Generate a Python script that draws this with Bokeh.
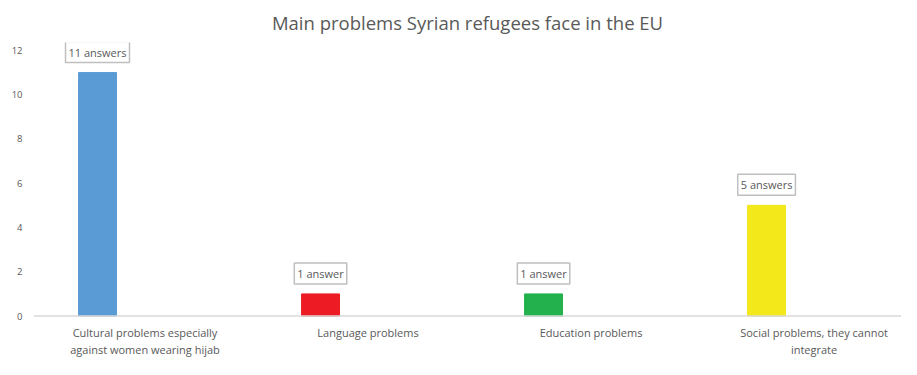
from bokeh.plotting import figure
from bokeh.models import ColumnDataSource, Label, Range1d, FixedTicker, Span
from bokeh.transform import dodge
from bokeh.embed import file_html
from bokeh.resources import INLINE

categories = [
    "Cultural problems especially\nagainst women wearing hijab",
    "Language problems",
    "Education problems",
    "Social problems, they cannot\nintegrate",
]
answers = [11, 1, 1, 5]
answer_labels = ["11 answers", "1 answer", "1 answer", "5 answers"]
bar_colors = ["#5B9BD5", "#ED1C24", "#22B14C", "#F2E81A"]
y_ticks = [0, 2, 4, 6, 8, 10, 12]

FONT = "Open Sans"
GREY = "#595959"
DODGE = -0.213

pos = [i + 0.5 for i in range(len(categories))]
src = ColumnDataSource(dict(x=pos, top=answers, label=answer_labels, color=bar_colors))

# y range extends below 0 so the category labels sit inside the plot frame
p = figure(width=901, height=359, output_backend="svg", toolbar_location=None,
           x_range=Range1d(0, 3.892), y_range=Range1d(-1.963, 12.357),
           min_border_left=33, min_border_right=0, min_border_top=38, min_border_bottom=0,
           title="Main problems Syrian refugees face in the EU")
p.outline_line_color = None
p.background_fill_color = "white"
p.border_fill_color = "white"
p.grid.visible = False

p.title.align = "center"
p.title.text_font = FONT
p.title.text_font_size = "18.5px"
p.title.text_font_style = "normal"
p.title.text_color = GREY
p.title.standoff = 15

p.vbar(x=dodge("x", DODGE, range=p.x_range), top="top", width=0.17, bottom=0,
       color="color", source=src)

# category axis line at y = 0
p.add_layout(Span(location=0, dimension="width", line_color="#D9D9D9", line_width=1.5))

for xc, top, lab in zip(pos, answers, answer_labels):
    p.add_layout(Label(x=xc + DODGE, y=top, text=lab, text_align="center",
                       text_baseline="bottom", y_offset=10,
                       text_font=FONT, text_font_size="11px", text_color=GREY,
                       background_fill_color="white", border_line_color="#BFBFBF",
                       border_line_width=1.5, padding=3))

# category labels below the axis line
for xc, cat in zip(pos, categories):
    p.add_layout(Label(x=xc, y=0, text=cat, text_align="center",
                       text_baseline="top", y_offset=-9,
                       text_font=FONT, text_font_size="11px", text_color=GREY,
                       text_line_height=1.15))

p.xaxis.visible = False

p.yaxis.ticker = FixedTicker(ticks=y_ticks)
p.yaxis.major_tick_line_color = None
p.yaxis.minor_tick_line_color = None
p.yaxis.major_tick_out = 0
p.yaxis.axis_line_color = None
p.yaxis.major_label_text_font = FONT
p.yaxis.major_label_text_font_size = "9.5px"
p.yaxis.major_label_text_color = GREY
p.yaxis.major_label_standoff = 11

open("out.html", "w").write(file_html(p, INLINE))
